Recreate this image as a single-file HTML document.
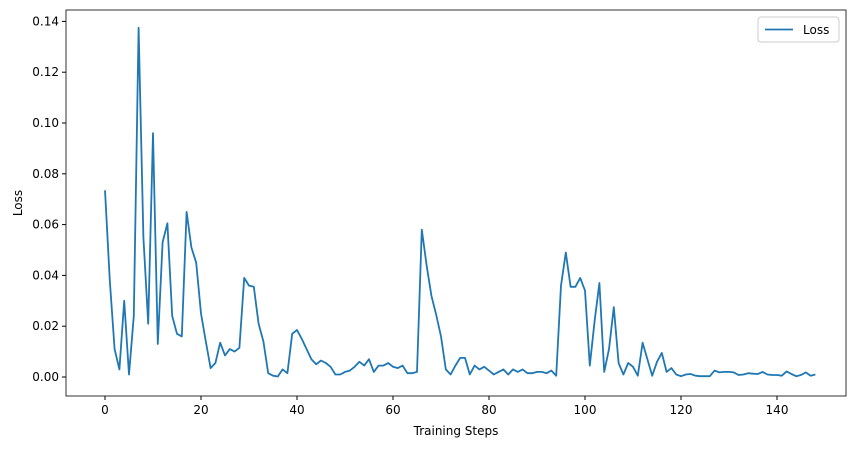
<!DOCTYPE html>
<html><head><meta charset="utf-8"><style>
body{margin:0;background:#fff;font-family:"Liberation Sans","DejaVu Sans",sans-serif;}
svg text{font-family:"DejaVu Sans","Liberation Sans",sans-serif;font-size:12px;fill:#000;}
</style></head><body>
<svg id="chart" width="855" height="448">
<rect x="66" y="10" width="780" height="386" fill="none" stroke="#000" stroke-width="0.8"/>
<g id="xt"></g><g id="yt"></g>
<path id="line" fill="none" stroke="#1f77b4" stroke-width="1.8" stroke-linejoin="round"/>
<text x="456" y="435" text-anchor="middle">Training Steps</text>
<text x="22" y="203" text-anchor="middle" transform="rotate(-90 22 203)">Loss</text>
<g>
<rect x="758" y="17" width="81" height="25" rx="3" fill="#fff" stroke="#ccc"/>
<line x1="765" y1="29.5" x2="793" y2="29.5" stroke="#1f77b4" stroke-width="1.8"/>
<text x="803" y="34">Loss</text>
</g>
</svg>
<script>
const lossValues=[0.0735,0.038,0.011,0.003,0.030,0.001,0.024,0.1375,0.055,0.021,0.096,0.013,0.053,0.0605,0.024,0.017,0.016,0.065,0.051,0.045,0.025,0.014,0.0035,0.0055,0.0135,0.0085,0.011,0.010,0.0115,0.039,0.036,0.0355,0.021,0.014,0.0015,0.0005,0.0002,0.003,0.0015,0.017,0.0185,0.015,0.011,0.007,0.005,0.0065,0.0055,0.004,0.001,0.001,0.002,0.0025,0.004,0.006,0.0045,0.007,0.002,0.0045,0.0045,0.0055,0.004,0.0035,0.0045,0.0015,0.0015,0.002,0.058,0.044,0.032,0.0245,0.016,0.003,0.001,0.0045,0.0075,0.0075,0.001,0.0045,0.003,0.004,0.0025,0.001,0.002,0.003,0.001,0.003,0.002,0.003,0.0015,0.0015,0.002,0.002,0.0015,0.0025,0.0005,0.036,0.049,0.0355,0.0355,0.039,0.034,0.0045,0.022,0.037,0.002,0.011,0.0275,0.0055,0.001,0.0055,0.004,0.0005,0.0135,0.007,0.0005,0.006,0.0095,0.002,0.0035,0.001,0.0003,0.001,0.0012,0.0005,0.0003,0.0003,0.0003,0.0025,0.0018,0.002,0.002,0.0018,0.0008,0.001,0.0015,0.0013,0.0012,0.002,0.001,0.0008,0.0008,0.0005,0.0022,0.0012,0.0003,0.0008,0.0018,0.0005,0.001];
const xTicks=[0,20,40,60,80,100,120,140];
const yTicks=[0,0.02,0.04,0.06,0.08,0.10,0.12,0.14];
const yLabels=["0.00","0.02","0.04","0.06","0.08","0.10","0.12","0.14"];
const NS="http://www.w3.org/2000/svg";
const xs=s=>105+s*4.8;
const ys=v=>377-v*2540;
let d="";
lossValues.forEach((v,i)=>{d+=(i?"L":"M")+xs(i).toFixed(1)+","+ys(v).toFixed(1);});
document.getElementById('line').setAttribute('d',d);
const xt=document.getElementById('xt');
xTicks.forEach(t=>{
 const l=document.createElementNS(NS,'line');
 l.setAttribute('x1',xs(t));l.setAttribute('x2',xs(t));l.setAttribute('y1',396);l.setAttribute('y2',400);l.setAttribute('stroke','#000');
 
 
 xt.appendChild(l);
 const tx=document.createElementNS(NS,'text');
 tx.setAttribute('x',xs(t));tx.setAttribute('y',414);tx.setAttribute('text-anchor','middle');tx.textContent=t;
 
 
 xt.appendChild(tx);
});
const yt=document.getElementById('yt');
yTicks.forEach((t,i)=>{
 const l=document.createElementNS(NS,'line');
 l.setAttribute('x1',62);l.setAttribute('x2',66);l.setAttribute('y1',ys(t));l.setAttribute('y2',ys(t));l.setAttribute('stroke','#000');
 
 
 yt.appendChild(l);
 const tx=document.createElementNS(NS,'text');
 tx.setAttribute('x',59);tx.setAttribute('y',ys(t)+4);tx.setAttribute('text-anchor','end');tx.textContent=yLabels[i];
 
 
 yt.appendChild(tx);
});
</script>
</body></html>
